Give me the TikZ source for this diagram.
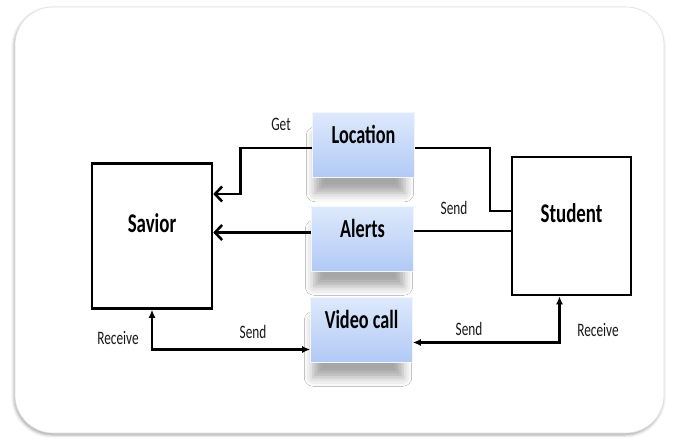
\documentclass[tikz,border=0pt]{standalone}
\usepackage{fontspec}
\setmainfont{Carlito}
\newfontfamily\sqfont[FakeStretch=0.7]{Carlito}
\usetikzlibrary{arrows.meta,shadows.blur}

\definecolor{boxtop}{HTML}{DEE9FC}
\definecolor{boxbot}{HTML}{B1CAF5}

\tikzstyle{box}=[rectangle,draw,line width=2.6pt,fill=white,inner ysep=0pt,text height=20pt,text depth=28pt,
  font=\sqfont\fontsize{27}{30}\selectfont\bfseries]
\tikzstyle{item}=[rectangle,draw=white!60!boxtop,line width=0.6pt,top color=boxtop,bottom color=boxbot,
  minimum width=102pt,inner ysep=0pt,text height=31pt,text depth=34pt,font=\sqfont\fontsize{26}{29}\selectfont\bfseries,
  blur shadow={shadow xshift=-4pt,shadow yshift=-22pt,shadow scale=0.88,shadow blur radius=10pt,shadow opacity=35}]
\tikzstyle{lbl}=[font=\sqfont\fontsize{19}{21}\selectfont,text=black!90]
\tikzstyle{barb}=[-{Straight Barb[length=7pt,width=15pt]}]
\tikzstyle{tip}=[{Latex[length=8pt,width=7pt]}-{Latex[length=8pt,width=7pt]}]

\begin{document}
\begin{tikzpicture}[x=1pt,y=-1pt,line width=2.6pt]
  \useasboundingbox (0,0) rectangle (675,437);
  % frame
  \draw[draw=black!12,line width=0.6pt,fill=white,rounded corners=38pt,
    blur shadow={shadow xshift=-1pt,shadow yshift=-2pt,shadow blur radius=3pt,shadow opacity=35}]
    (15,7) rectangle (664,433);

  \node[box,minimum width=120pt,minimum height=145pt] (savior) at (152,236) {Savior};
  \node[box,minimum width=119pt,minimum height=138pt] (student) at (571.5,226) {Student};

  \node[item] (location) at (363.5,145) {Location};
  \node[item] (alerts) at (362.5,238.5) {Alerts};
  \node[item] (videocall) at (361.5,329.5) {Video call};

  \draw[barb] ([yshift=-3pt]location.west) -- ++(-72,0) |- ([yshift=42pt]savior.east);
  \draw ([yshift=-3pt]location.east) -- ++(75,0) |- ([yshift=15pt]student.west);
  \draw ([yshift=-5pt]student.west) -- ([yshift=-5pt]student.west -| alerts.east);
  \draw[barb] ([yshift=6pt]alerts.west) -- ([yshift=6pt]alerts.west -| savior.east);
  \draw[tip] (savior.south) |- ([yshift=-20pt]videocall.west);
  \draw[tip] ([xshift=-12pt]student.south) |- ([yshift=-13pt]videocall.east);

  \node[lbl] (get) at (281,124) {Get};
  \node[lbl] (sendalert) at (454,208) {Send};
  \node[lbl] (sendsav) at (253,332) {Send};
  \node[lbl] (sendstu) at (469,329) {Send};
  \node[lbl] (recvsav) at (118,338) {Receive};
  \node[lbl] (recvstu) at (598,330) {Receive};
\end{tikzpicture}
\end{document}
